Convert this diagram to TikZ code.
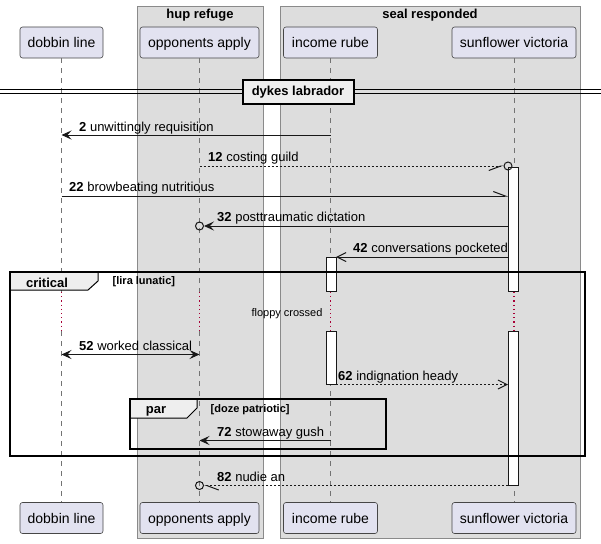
\documentclass[tikz,border=0pt]{standalone}
\usepackage{fontspec}
\setmainfont{Liberation Sans}
\usetikzlibrary{arrows.meta}

\definecolor{partfill}{HTML}{E2E2F0}
\definecolor{ink}{HTML}{181818}
\definecolor{grpfill}{HTML}{DDDDDD}
\definecolor{grpline}{HTML}{8A8A8A}
\definecolor{tabfill}{HTML}{EEEEEE}
\definecolor{pausered}{HTML}{A80036}

\tikzset{
  part/.style={draw=ink!80, fill=partfill, rounded corners=2.5pt, line width=0.6pt,
    inner sep=0pt, minimum height=31pt, text height=13pt, text depth=2pt,
    font=\fontsize{14}{16}\selectfont},
  grpbox/.style={draw=grpline, fill=grpfill, line width=0.8pt},
  grptitle/.style={anchor=base, inner sep=0pt, font=\bfseries\fontsize{13}{15}\selectfont},
  life/.style={draw=black!55, line width=0.8pt, dash pattern=on 5pt off 5pt},
  pauseline/.style={draw=pausered, line width=1.2pt, dash pattern=on 1.2pt off 3pt},
  actbar/.style={draw=ink, fill=white, line width=1pt},
  msg/.style={draw=ink, line width=1pt},
  reply/.style={msg, dash pattern=on 2pt off 2pt},
  solidhead/.style={-{Stealth[length=10pt, width=9pt, inset=4pt]}},
  bothhead/.style={{Stealth[length=10pt, width=9pt, inset=4pt]}-{Stealth[length=10pt, width=9pt, inset=4pt]}},
  openhead/.style={-{Straight Barb[length=9pt, width=9pt, line width=1pt]}},
  halfup/.style={-{Straight Barb[harpoon, length=12pt, width=9pt, line width=1pt]}},
  halfdown/.style={-{Straight Barb[harpoon, swap, length=12pt, width=9pt, line width=1pt]}},
  ocirc/.style={circle, draw=ink, line width=1pt, inner sep=0pt, minimum size=8pt},
  lbl/.style={anchor=base west, inner sep=0pt, font=\fontsize{13}{15}\selectfont},
  framebox/.style={draw=black, line width=1.5pt},
  tabshape/.style={draw=black, fill=tabfill, line width=1pt},
  tabtitle/.style={anchor=base, inner sep=0pt, font=\bfseries\fontsize{13}{15}\selectfont},
  guard/.style={anchor=base west, inner sep=0pt, font=\bfseries\fontsize{11}{13}\selectfont},
}

\begin{document}
\begin{tikzpicture}[x=1pt, y=-1pt]
\useasboundingbox (0,0) rectangle (601,543);
\fill[white] (0,0) rectangle (601,543);

% participant groups
\draw[grpbox] (137,6) rectangle (263,538);
\node[grptitle] (hupT) at (200,19) {hup refuge};
\draw[grpbox] (280,6) rectangle (580,538);
\node[grptitle] (sealT) at (430,19) {seal responded};

% participants, head and foot
\node[part, minimum width=83pt]  (dT) at (61.5,42.5) {dobbin line};
\node[part, minimum width=119pt] (oT) at (199.5,42.5) {opponents apply};
\node[part, minimum width=94pt]  (iT) at (330.5,42.5) {income rube};
\node[part, minimum width=124pt] (sT) at (514,42.5) {sunflower victoria};
\node[part, minimum width=83pt]  (dB) at (61.5,518) {dobbin line};
\node[part, minimum width=119pt] (oB) at (199.5,518) {opponents apply};
\node[part, minimum width=94pt]  (iB) at (330.5,518) {income rube};
\node[part, minimum width=124pt] (sB) at (514,518) {sunflower victoria};

% lifelines, interrupted by the delay
\coordinate (pz1) at (0,292);
\coordinate (pz2) at (0,331);
\foreach \p in {d,o,i,s}{
  \draw[life] (\p T.south) -- (\p T.south |- pz1);
  \draw[pauseline] (\p T.south |- pz1) -- (\p T.south |- pz2);
  \draw[life] (\p T.south |- pz2) -- (\p B.north);
}

% divider
\draw[black, line width=1pt] (0,89) -- (601,89);
\draw[black, line width=1pt] (0,93) -- (601,93);
\node[draw=black, fill=tabfill, line width=2pt, minimum width=111pt, minimum height=24pt,
      inner sep=0pt, text height=10pt, text depth=3pt,
      font=\bfseries\fontsize{13}{15}\selectfont] (div) at (298,92) {dykes labrador};

% activation bars
\draw[actbar] (508,167) rectangle (518.5,291);
\draw[actbar] (508,331) rectangle (518.5,485.5);
\draw[actbar] (326,257) rectangle (336,291);
\draw[actbar] (326,331) rectangle (336,384.5);

% message end points
\coordinate (m2a) at (iT.south |- 0,135);   \coordinate (m2b) at (dT.south |- 0,135);
\coordinate (m12a) at (oT.south |- 0,166);
\node[ocirc] (c12) at (508,166) {};
\coordinate (m22a) at (dT.south |- 0,196);  \coordinate (m22b) at (508,196);
\coordinate (m32a) at (508,226);
\node[ocirc] (c32) at (oT.south |- 0,226) {};
\coordinate (m42a) at (508,257);             \coordinate (m42b) at (336,257);
\coordinate (m52a) at (dT.south |- 0,354.5); \coordinate (m52b) at (oT.south |- 0,354.5);
\coordinate (m62a) at (336,384.5);           \coordinate (m62b) at (508,384.5);
\coordinate (m72a) at (iT.south |- 0,440.5); \coordinate (m72b) at (oT.south |- 0,440.5);
\coordinate (m82a) at (508,485.5);
\node[ocirc] (c82) at (oT.south |- 0,485.5) {};

% messages
\draw[msg, solidhead] (m2a) -- (m2b);
\node[lbl] (t2) at (79,131) {\textbf{2} unwittingly requisition};
\draw[reply, halfdown] (m12a) -- (c12.west);
\node[lbl] (t12) at (208,161.5) {\textbf{12} costing guild};
\draw[msg, halfup] (m22a) -- (m22b);
\node[lbl] (t22) at (69,191.5) {\textbf{22} browbeating nutritious};
\draw[msg, solidhead] (m32a) -- (c32.east);
\node[lbl] (t32) at (217,221.5) {\textbf{32} posttraumatic dictation};
\draw[msg, openhead] (m42a) -- (m42b);
\node[lbl] (t42) at (353,252.5) {\textbf{42} conversations pocketed};
\draw[msg, bothhead] (m52a) -- (m52b);
\node[lbl] (t52) at (79,350) {\textbf{52} worked classical};
\draw[reply, openhead] (m62a) -- (m62b);
\node[lbl] (t62) at (338,380) {\textbf{62} indignation heady};
\draw[msg, solidhead] (m72a) -- (m72b);
\node[lbl] (t72) at (217,436) {\textbf{72} stowaway gush};
\draw[reply, halfup] (m82a) -- (c82.east);
\node[lbl] (t82) at (217,481) {\textbf{82} nudie an};

% delay text
\node[anchor=base, inner sep=0pt, font=\fontsize{11}{13}\selectfont] (delay) at (287,316) {floppy crossed};

% critical fragment
\draw[tabshape] (10,272) -- (98,272) -- (98,281) -- (88,290) -- (10,290) -- cycle;
\draw[framebox] (10,272) rectangle (585,456);
\node[tabtitle] (critT) at (47,287) {critical};
\node[guard] (critG) at (112.5,284) {[lira lunatic]};

% par fragment
\draw[tabshape] (130,399) -- (197,399) -- (197,408) -- (187,418) -- (130,418) -- cycle;
\draw[framebox] (130,399) rectangle (386,449);
\node[tabtitle] (parT) at (156,413) {par};
\node[guard] (parG) at (210.5,412) {[doze patriotic]};
\end{tikzpicture}
\end{document}
